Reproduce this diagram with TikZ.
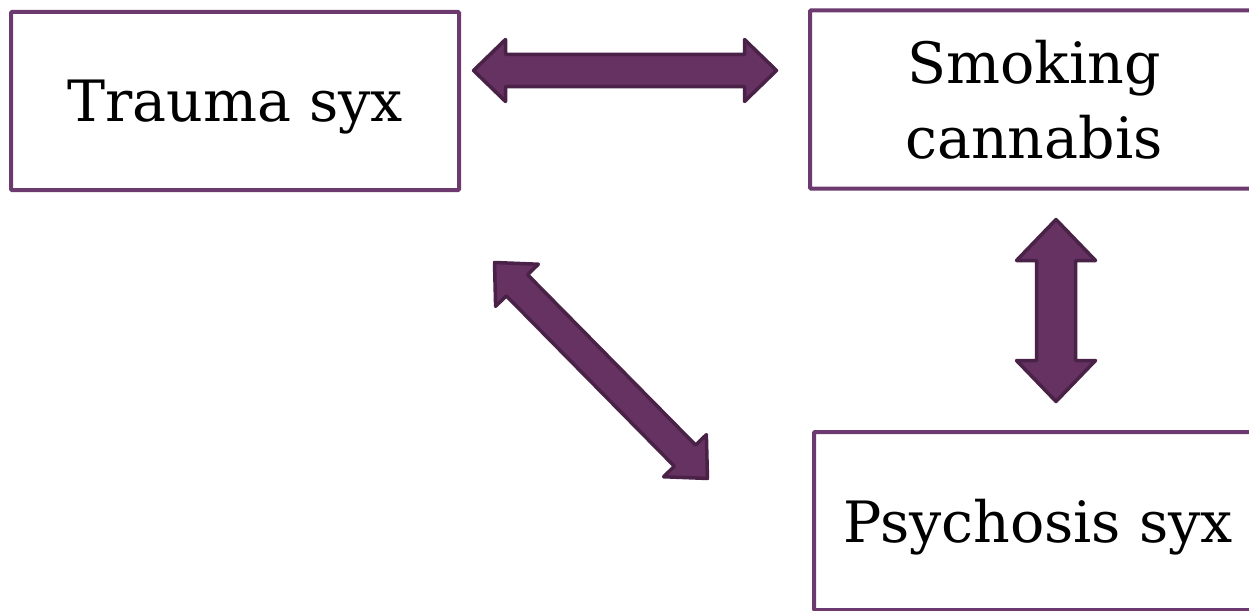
\documentclass[tikz,border=0pt]{standalone}
\usepackage{fontspec}
\setmainfont{DejaVu Serif}
\usetikzlibrary{calc}
\definecolor{boxline}{RGB}{108,58,110}
\definecolor{arrfill}{RGB}{101,50,98}
\definecolor{arrline}{RGB}{74,34,71}
\tikzset{
  box/.style={draw=boxline, line width=4pt, rounded corners=1pt, minimum width=448pt, minimum height=178pt, inner sep=0pt, align=center, text depth=0pt, font=\fontsize{57}{75}\selectfont, text=black},
  blockarrow/.style={fill=arrfill, draw=arrline, line width=3.5pt, line join=round}
}
% #1 start, #2 end, #3 shaft half width, #4 head half width, #5 head length
\newcommand{\dblarrow}[5]{%
  \draw[blockarrow] let \p1=(#1), \p2=(#2), \n1={atan2(\y2-\y1,\x2-\x1)}, \n2={veclen(\x2-\x1,\y2-\y1)} in
   [shift={(\p1)}, rotate=\n1]
   (0pt,0pt) -- (#5pt,#4pt) -- (#5pt,#3pt) -- ({(\n2)*1pt-#5pt},#3pt) -- ({(\n2)*1pt-#5pt},#4pt) -- ({(\n2)*1pt},0pt)
   -- ({(\n2)*1pt-#5pt},-#4pt) -- ({(\n2)*1pt-#5pt},-#3pt) -- (#5pt,-#3pt) -- (#5pt,-#4pt) -- cycle;
}
\begin{document}
\begin{tikzpicture}[x=1pt,y=-1pt]
\useasboundingbox (0,0) rectangle (1249,610);
\clip (0,0) rectangle (1249,610);
\node[box] (trauma) at (235,101) {Trauma syx};
\node[box] (smoking) at (1034,99.5) {Smoking\\cannabis};
\node[box] (psych) at (1038,521) {Psychosis syx};
% arrow end points
\coordinate (h1) at (473.5,70.5);
\coordinate (h2) at (776.5,70.5);
\coordinate (v1) at (1056,219.5);
\coordinate (v2) at (1056,401.5);
\coordinate (d1) at (494.5,262.5);
\coordinate (d2) at (707.5,478.5);
\dblarrow{h1}{h2}{16}{31}{32}
\dblarrow{v1}{v2}{19.5}{39.5}{41}
\dblarrow{d1}{d2}{15}{30}{32}
\end{tikzpicture}
\end{document}
